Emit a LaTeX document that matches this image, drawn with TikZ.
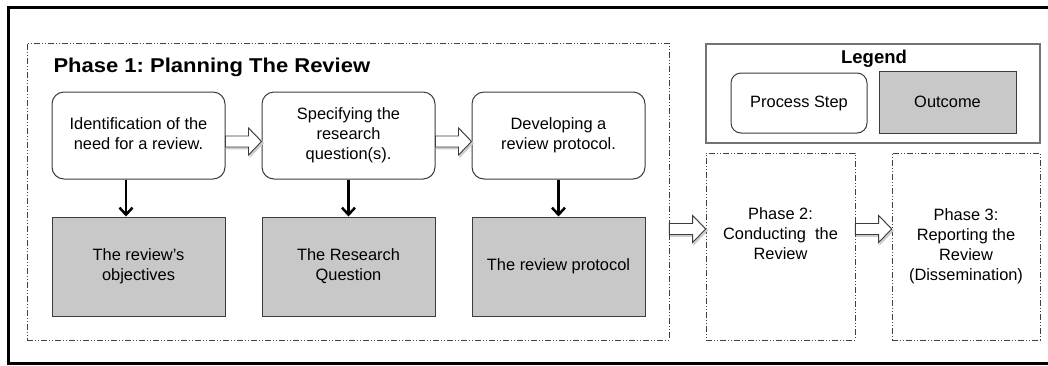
\documentclass[tikz,border=0pt]{standalone}
\usepackage{fontspec}
\setmainfont{Liberation Sans}
\newfontfamily\titlefont{Liberation Sans}[FakeStretch=1.1]
\usetikzlibrary{arrows.meta,calc}
\frenchspacing

\definecolor{outgray}{RGB}{200,200,200}
\definecolor{edgegray}{RGB}{60,60,60}

\tikzset{
  procbox/.style={draw=edgegray, line width=1pt, rounded corners=12pt, fill=white,
    minimum width=173pt, minimum height=87pt, inner sep=0pt, align=center,
    font=\fontsize{16.4}{20}\selectfont},
  outbox/.style={draw=edgegray, line width=1pt, fill=outgray,
    minimum width=173pt, minimum height=99pt, inner sep=0pt, align=center,
    font=\fontsize{16.4}{20}\selectfont},
  phasebox/.style={draw=black!75, line width=0.8pt, inner sep=0pt, align=center,
    dash pattern=on 6pt off 2pt on 1pt off 2pt on 1pt off 2pt,
    font=\fontsize{16.4}{20}\selectfont},
  downarrow/.style={line width=2.5pt, -{Straight Barb[length=7pt, width=13pt]}},
  blockarrow/.style={draw=edgegray, line width=0.9pt, fill=white,
    preaction={draw=black!20, line width=1.5pt, fill=black!20, transform canvas={shift={(1.5pt,-1.5pt)}}},
    to path={let \p1=(\tikztostart), \p2=(\tikztotarget) in
      (\x1,\y1+5.5pt) -- (\x2-13pt,\y1+5.5pt) -- (\x2-13pt,\y1+13.5pt) -- (\x2,\y1)
      -- (\x2-13pt,\y1-13.5pt) -- (\x2-13pt,\y1-5.5pt) -- (\x1,\y1-5.5pt) -- cycle}},
}

\begin{document}
\begin{tikzpicture}[x=1pt, y=-1pt]
\def\xa{138.5}
\def\xb{348.5}
\def\xc{558.5}
\def\yp{135.5}
\def\yo{266.5}

\useasboundingbox (0,0) rectangle (1048,365);
\draw[line width=3pt] (1048,7) -- (8,7) -- (8,363) -- (1048,363);

% phase 1
\node[phasebox, minimum width=642pt, minimum height=297pt] (ph1) at (348,191.5) {};
\node[anchor=base west, font=\titlefont\bfseries\fontsize{20}{24}\selectfont] (ph1title) at (50,72) {Phase 1: Planning The Review};

\node[procbox] (proc1) at (\xa, \yp) {\raisebox{-4pt}{\begin{tabular}{@{}c@{}}Identification of the\\need for a review.\end{tabular}}};
\node[procbox] (proc2) at (\xb, \yp) {Specifying the\\research\\question(s).};
\node[procbox] (proc3) at (\xc, \yp) {\raisebox{-5pt}{\begin{tabular}{@{}c@{}}Developing a\\review protocol.\end{tabular}}};

\node[outbox] (out1) at (\xa, \yo) {The review's\\objectives};
\node[outbox] (out2) at (\xb, \yo) {The Research\\Question};
\node[outbox] (out3) at (\xc, \yo) {The review protocol};

\draw[blockarrow] ([yshift=-6pt]proc1.east) to (proc2.west);
\draw[blockarrow] ([yshift=-6pt]proc2.east) to (proc3.west);

\draw[downarrow] ([xshift=-12.5pt]proc1.south) -- ([xshift=-12.5pt]out1.north);
\draw[downarrow] (proc2.south) -- (out2.north);
\draw[downarrow] (proc3.south) -- (out3.north);

% legend
\node[draw=black!55, line width=1.2pt, minimum width=334pt, minimum height=99pt] (legend) at (873,93.5) {};
\node[anchor=base, font=\bfseries\fontsize{18.5}{22}\selectfont] (legtitle) at (874,63) {Legend};
\node[procbox, rounded corners=10pt, minimum width=136pt, minimum height=60pt] (legproc) at (799,103) {\raisebox{-7pt}{Process Step}};
\node[outbox, minimum width=137pt, minimum height=62pt] (legout) at (947.5,102) {Outcome};

% phases 2 and 3
\node[phasebox, minimum width=149pt, minimum height=187pt] (ph2) at (780.5,246.5) {Phase 2:\\Conducting~~the\\Review\\\strut};
\node[phasebox, minimum width=148pt, minimum height=187pt] (ph3) at (966,246.5) {Phase 3:\\Reporting the\\Review\\(Dissemination)};

\coordinate (arrowy) at (0,229);
\draw[blockarrow] (ph1.east |- arrowy) to (ph2.west);
\draw[blockarrow] (ph2.east |- arrowy) to (ph3.west);
\end{tikzpicture}
\end{document}
